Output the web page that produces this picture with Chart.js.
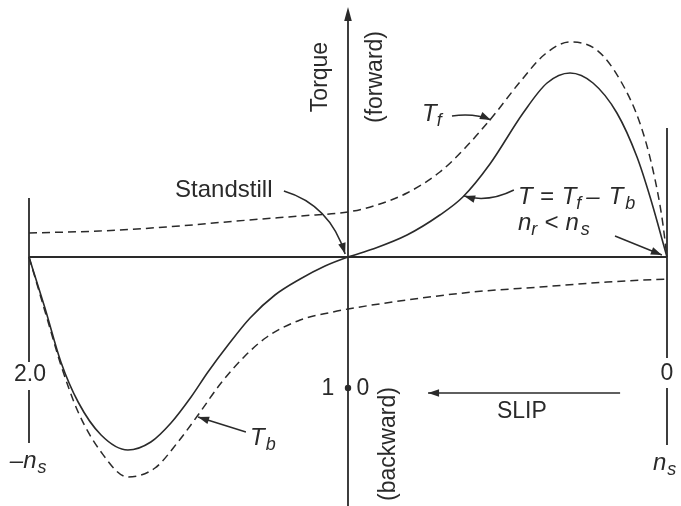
<!DOCTYPE html>
<html><head><meta charset="utf-8">
<script src="https://cdn.jsdelivr.net/npm/chart.js@4/dist/chart.umd.min.js"></script>
<style>html,body{margin:0;padding:0;background:#fff;} #wrap{width:681px;height:506px;position:relative;}</style>
</head><body>
<div id="wrap"><canvas id="c" width="681" height="506"></canvas></div>
<script>
// x = slip s (2 at left = -ns, 1 at standstill, 0 at ns), y = torque (arbitrary units)
const tfSlip   = [2.00,1.78,1.57,1.31,1.15,1.00,0.92,0.815,0.712,0.633,0.545,0.461,0.382,0.304,0.22,0.147,0.085,0.044,0.016,0.00];
const tfTorque = [0.24,0.26,0.30,0.37,0.41,0.45,0.51,0.64,0.85,1.09,1.41,1.75,2.03,2.15,2.07,1.77,1.34,0.87,0.40,0.00];

const tSlip   = [2.00,1.95,1.90,1.846,1.774,1.69,1.618,1.555,1.492,1.439,1.376,1.307,1.229,1.150,1.072,1.00,0.922,0.815,0.712,0.640,0.555,0.451,0.376,0.304,0.232,0.157,0.094,0.053,0.00];
const tTorque = [0.00,-0.51,-1.05,-1.45,-1.78,-1.93,-1.85,-1.66,-1.40,-1.15,-0.88,-0.61,-0.38,-0.22,-0.09,0.00,0.08,0.22,0.42,0.60,0.93,1.44,1.74,1.84,1.74,1.44,1.00,0.60,0.00];

const tbSlip   = [2.00,1.94,1.90,1.846,1.774,1.69,1.605,1.533,1.47,1.398,1.323,1.254,1.15,1.047,1.00,0.815,0.608,0.398,0.188,0.00];
const tbTorque = [0.00,-0.65,-1.08,-1.55,-1.95,-2.20,-2.11,-1.85,-1.58,-1.26,-0.99,-0.80,-0.63,-0.55,-0.52,-0.43,-0.35,-0.30,-0.25,-0.22];

// slip tick labels on the three vertical lines
const slipTicks = [2.0, 1, 0];
const slipTickLabels = ['2.0', '1', '0'];
const speedLabels = ['n', 'n']; // -ns at left, ns at right

function pts(xs, ys){ return xs.map((x,i)=>({x:x, y:ys[i]})); }

const INK = '#2a2a2a';
const FONT = '"Liberation Sans", Arial, Helvetica, sans-serif';

function lineDs(data, opts){
  return Object.assign({data:data, borderColor:INK, borderWidth:1.6, pointRadius:0, fill:false, tension:0, clip:false}, opts||{});
}

const datasets = [
  // axes
  lineDs(pts([2,0],[0,0]), {borderWidth:2}),
  lineDs(pts([1,1],[2.46,-2.55]), {borderWidth:1.8}),
  lineDs(pts([2,2],[0.59,-1.05]), {borderWidth:1.8}),
  lineDs(pts([2,2],[-1.33,-1.86]), {borderWidth:1.8}),
  lineDs(pts([0,0],[1.29,-1.01]), {borderWidth:1.8}),
  lineDs(pts([0,0],[-1.31,-1.88]), {borderWidth:1.8}),
  // curves
  lineDs(pts(tfSlip,tfTorque), {borderDash:[8,5], cubicInterpolationMode:'monotone', borderWidth:1.5}),
  lineDs(pts(tbSlip,tbTorque), {borderDash:[8,5], cubicInterpolationMode:'monotone', borderWidth:1.5}),
  lineDs(pts(tSlip,tTorque), {cubicInterpolationMode:'monotone', borderWidth:1.6}),
];

function arrowHead(ctx, tx, ty, fx, fy, len, hw){
  const a = Math.atan2(ty-fy, tx-fx);
  ctx.beginPath();
  ctx.moveTo(tx, ty);
  ctx.lineTo(tx - len*Math.cos(a) + hw*Math.sin(a), ty - len*Math.sin(a) - hw*Math.cos(a));
  ctx.lineTo(tx - len*Math.cos(a) - hw*Math.sin(a), ty - len*Math.sin(a) + hw*Math.cos(a));
  ctx.closePath();
  ctx.fill();
}

function mathText(ctx, x, y, parts, size){
  // parts: [text, isSub, extraGapAfter]
  let cx = x;
  for (const [t, sub, gap] of parts){
    ctx.font = 'italic ' + (sub ? Math.round(size*0.74) : size) + 'px ' + FONT;
    ctx.fillText(t, cx, sub ? y + size*0.22 : y);
    cx += ctx.measureText(t).width + (gap || 0);
  }
}

const annot = {
  id:'annot',
  afterDraw(chart){
    const ctx = chart.ctx, X = chart.scales.x, Y = chart.scales.y;
    const P = (s,t)=>[X.getPixelForValue(s), Y.getPixelForValue(t)];
    ctx.save();
    ctx.fillStyle = INK; ctx.strokeStyle = INK;
    ctx.lineWidth = 1.5;

    // top arrow of torque axis
    let [ax, ay] = P(1, 2.50);
    arrowHead(ctx, ax, ay, ax, ay+20, 14, 3.8);

    // plain labels
    ctx.font = '24px ' + FONT;
    ctx.textBaseline = 'alphabetic'; ctx.textAlign = 'left';
    let p = P(1.542, 0.60); ctx.fillText('Standstill', p[0], p[1]);

    ctx.font = '23px ' + FONT;
    ctx.textAlign = 'center'; ctx.textBaseline = 'middle';
    p = P(0.455, -1.55); ctx.fillText('SLIP', p[0], p[1]);
    p = P(slipTicks[0]-0.003, -1.18); ctx.fillText(slipTickLabels[0], p[0], p[1]);
    p = P(1.063, -1.32); ctx.fillText(slipTickLabels[1], p[0], p[1]);
    p = P(0.953, -1.32); ctx.fillText(slipTickLabels[2], p[0], p[1]);
    p = P(slipTicks[2], -1.17); ctx.fillText(slipTickLabels[2], p[0], p[1]);

    // dot at standstill
    p = P(1, -1.31); ctx.beginPath(); ctx.arc(p[0], p[1], 3.2, 0, 2*Math.PI); ctx.fill();

    // rotated labels
    const rot = (txt, s, t)=>{ const q = P(s,t); ctx.save(); ctx.translate(q[0], q[1]); ctx.rotate(-Math.PI/2); ctx.fillText(txt, 0, 0); ctx.restore(); };
    rot('Torque', 1.085, 1.80);
    rot('(forward)', 0.912, 1.80);
    rot('(backward)', 0.871, -1.87);

    // math labels
    ctx.textAlign = 'left'; ctx.textBaseline = 'alphabetic';
    p = P(0.768, 1.36); mathText(ctx, p[0], p[1], [['T',0],['f',1]], 24);
    p = P(0.467, 0.53); mathText(ctx, p[0], p[1], [['T',0,7],['=',0,8],['T',0],['f',1,5],['\u2013',0,9],['T',0,2],['b',1]], 24);
    p = P(0.467, 0.27); mathText(ctx, p[0], p[1], [['n',0],['r',1,7],['<',0,7],['n',0,2],['s',1]], 24);
    p = P(1.307, -1.88); mathText(ctx, p[0], p[1], [['T',0,1],['b',1]], 24);
    p = P(0.044, -2.13); mathText(ctx, p[0], p[1], [[speedLabels[1],0,1],['s',1]], 24);
    p = P(2.060, -2.11); mathText(ctx, p[0], p[1], [['\u2013'+speedLabels[0],0,1],['s',1]], 24);

    // arrows
    const curveArrow = (a, c, b)=>{
      const A=P(a[0],a[1]), C=P(c[0],c[1]), B=P(b[0],b[1]);
      ctx.beginPath(); ctx.moveTo(A[0],A[1]); ctx.quadraticCurveTo(C[0],C[1],B[0],B[1]); ctx.stroke();
      arrowHead(ctx, B[0], B[1], C[0], C[1], 11, 3.8);
    };
    const straightArrow = (a, b)=>{
      const A=P(a[0],a[1]), B=P(b[0],b[1]);
      ctx.beginPath(); ctx.moveTo(A[0],A[1]); ctx.lineTo(B[0],B[1]); ctx.stroke();
      arrowHead(ctx, B[0], B[1], A[0], A[1], 11, 3.8);
    };
    curveArrow([1.201,0.66],[1.056,0.52],[1.009,0.03]);     // standstill
    curveArrow([0.674,1.41],[0.602,1.44],[0.552,1.37]);     // Tf
    curveArrow([0.480,0.67],[0.561,0.54],[0.636,0.61]);     // T
    straightArrow([0.163,0.21],[0.016,0.02]);              // nr<ns
    straightArrow([0.147,-1.36],[0.749,-1.36]);            // SLIP
    straightArrow([1.320,-1.75],[1.470,-1.60]);            // Tb
    ctx.restore();
  }
};

new Chart(document.getElementById('c'), {
  type:'line',
  data:{datasets:datasets},
  options:{
    responsive:false, animation:false, devicePixelRatio:1,
    layout:{padding:0, autoPadding:false},
    plugins:{legend:{display:false}, tooltip:{enabled:false}, title:{display:false}},
    scales:{
      x:{type:'linear', min:-0.0439, max:2.0909, reverse:true, display:false},
      y:{type:'linear', min:-2.49, max:2.57, display:false}
    },
    events:[]
  },
  plugins:[annot]
});
</script>
</body></html>
